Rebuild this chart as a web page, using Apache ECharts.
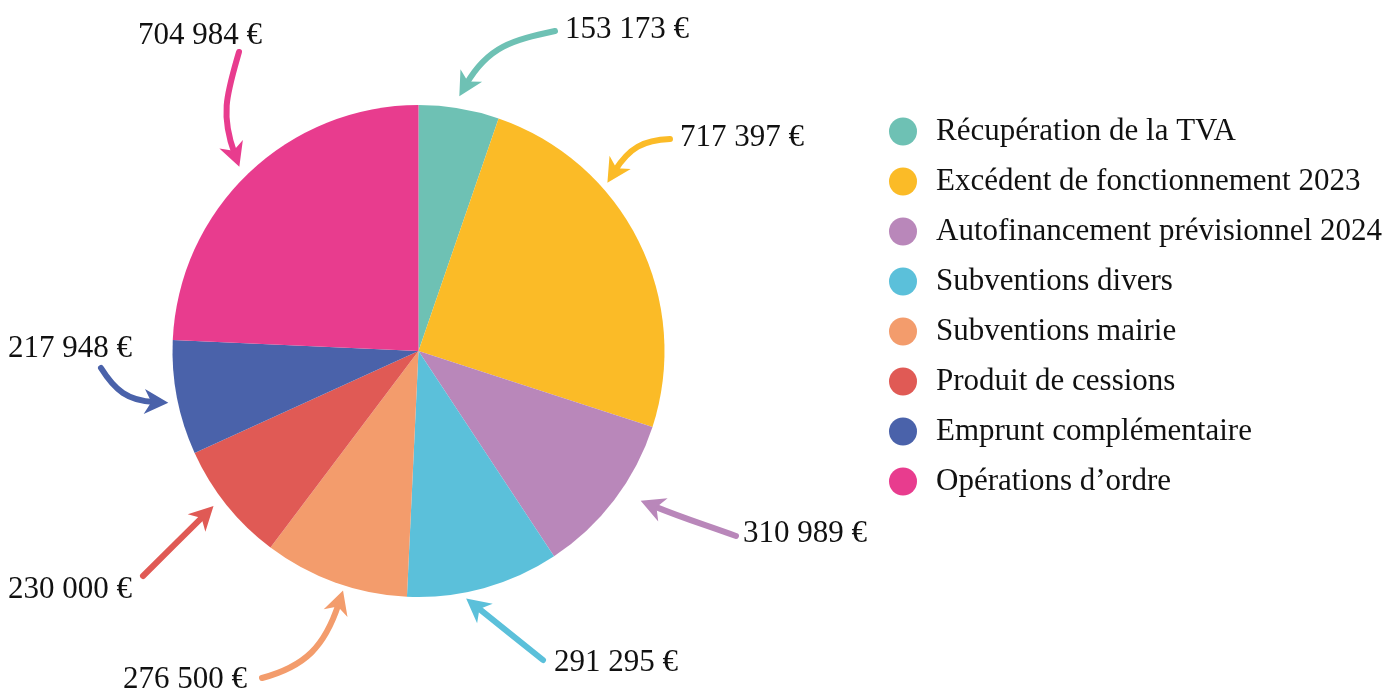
<!DOCTYPE html>
<html>
<head>
<meta charset="utf-8">
<script src="https://cdn.jsdelivr.net/npm/echarts@6/dist/echarts.min.js"></script>
<style>
  html, body { margin: 0; padding: 0; background: #fff; }
  #chart { width: 1382px; height: 693px; }
</style>
</head>
<body>
<div id="chart"></div>
<script>
// données
const categories = [
  "Récupération de la TVA",
  "Excédent de fonctionnement 2023",
  "Autofinancement prévisionnel 2024",
  "Subventions divers",
  "Subventions mairie",
  "Produit de cessions",
  "Emprunt complémentaire",
  "Opérations d’ordre",
];
const amounts = [153173, 717397, 310989, 291295, 276500, 230000, 217948, 704984];
const colors = ["#6ec1b4", "#fbbb27", "#b987ba", "#5bc0da", "#f39c6c", "#e05a55", "#4a62aa", "#e83c8e"];

// mise en page du camembert
const CX = 418.5, CY = 351, R = 246;

// position des étiquettes (bord gauche, milieu vertical), dans l'ordre des parts
const labelPos = [
  [565, 30], [680, 138], [743, 534], [554, 663],
  [123, 680], [8, 590], [8, 349], [138, 36],
];
// flèches, dans l'ordre des parts : départ près de l'étiquette + direction de départ,
// pointe (angle depuis le haut, écart au bord) + direction de la pointe (degrés écran)
const arrowTail = [
  [555, 31], [670, 139], [736, 536], [543, 660],
  [262, 678], [143, 576], [101, 368], [239, 52],
];
const arrowTailDir = [168, 178, -160, -141.4, -15, -45, 58, 106];
const arrowTip = [
  [9.1, 12], [48.3, 7], [124, 22], [169.1, 6],
  [197.5, 5], [232.9, 11], [258.3, 9.5], [315.8, 11],
];
const arrowDir = [120, 122, -158, -141.4, -72, -45, 3, 70];

const fmt = (v) => String(v).replace(/\B(?=(\d{3})+(?!\d))/g, " ") + " €";
const unit = (deg) => [Math.cos((deg * Math.PI) / 180), Math.sin((deg * Math.PI) / 180)];

function arrow(i) {
  const a = (arrowTip[i][0] * Math.PI) / 180;
  const r = R + arrowTip[i][1];
  const tip = [CX + r * Math.sin(a), CY - r * Math.cos(a)];
  const dir = unit(arrowDir[i]);
  const t0 = unit(arrowTailDir[i]);
  const notch = [tip[0] - dir[0] * 14, tip[1] - dir[1] * 14];
  const tail = arrowTail[i];
  const s = Math.hypot(notch[0] - tail[0], notch[1] - tail[1]) * 0.42;
  const L = 24, W = 12.5;
  const p = [-dir[1], dir[0]];
  const back = [tip[0] - dir[0] * L, tip[1] - dir[1] * L];
  return [
    {
      type: "bezierCurve",
      silent: true,
      shape: {
        x1: tail[0], y1: tail[1],
        x2: notch[0], y2: notch[1],
        cpx1: tail[0] + t0[0] * s, cpy1: tail[1] + t0[1] * s,
        cpx2: notch[0] - dir[0] * s, cpy2: notch[1] - dir[1] * s,
      },
      style: { stroke: colors[i], lineWidth: 6, lineCap: "round", fill: null },
    },
    {
      type: "polygon",
      silent: true,
      shape: {
        points: [
          tip,
          [back[0] + p[0] * W, back[1] + p[1] * W],
          [tip[0] - dir[0] * 17, tip[1] - dir[1] * 17],
          [back[0] - p[0] * W, back[1] - p[1] * W],
        ],
      },
      style: { fill: colors[i] },
    },
  ];
}

const chart = echarts.init(document.getElementById("chart"));

chart.setOption({
  animation: false,
  textStyle: { fontFamily: "Liberation Serif, Times New Roman, serif" },
  legend: {
    orient: "vertical",
    left: 889,
    top: 116,
    padding: 0,
    icon: "circle",
    itemWidth: 28,
    itemHeight: 28,
    itemGap: 19,
    data: categories,
    textStyle: { fontSize: 31, lineHeight: 31, color: "#111", padding: [0, 0, 0, 14] },
  },
  graphic: categories.flatMap((_, i) => arrow(i)),
  series: [
    {
      type: "pie",
      center: [CX, CY],
      radius: R,
      startAngle: 90,
      clockwise: true,
      data: categories.map((name, i) => ({
        name,
        value: amounts[i],
        itemStyle: { color: colors[i] },
      })),
      label: {
        show: true,
        position: "outside",
        formatter: (p) => fmt(p.value),
        fontSize: 31,
        color: "#111",
        overflow: "none",
        width: 200,
      },
      labelLine: { show: false },
      labelLayout: (p) => ({
        x: labelPos[p.dataIndex][0],
        y: labelPos[p.dataIndex][1],
        align: "left",
        verticalAlign: "middle",
      }),
    },
  ],
});

window.addEventListener("resize", () => chart.resize());
</script>
</body>
</html>
